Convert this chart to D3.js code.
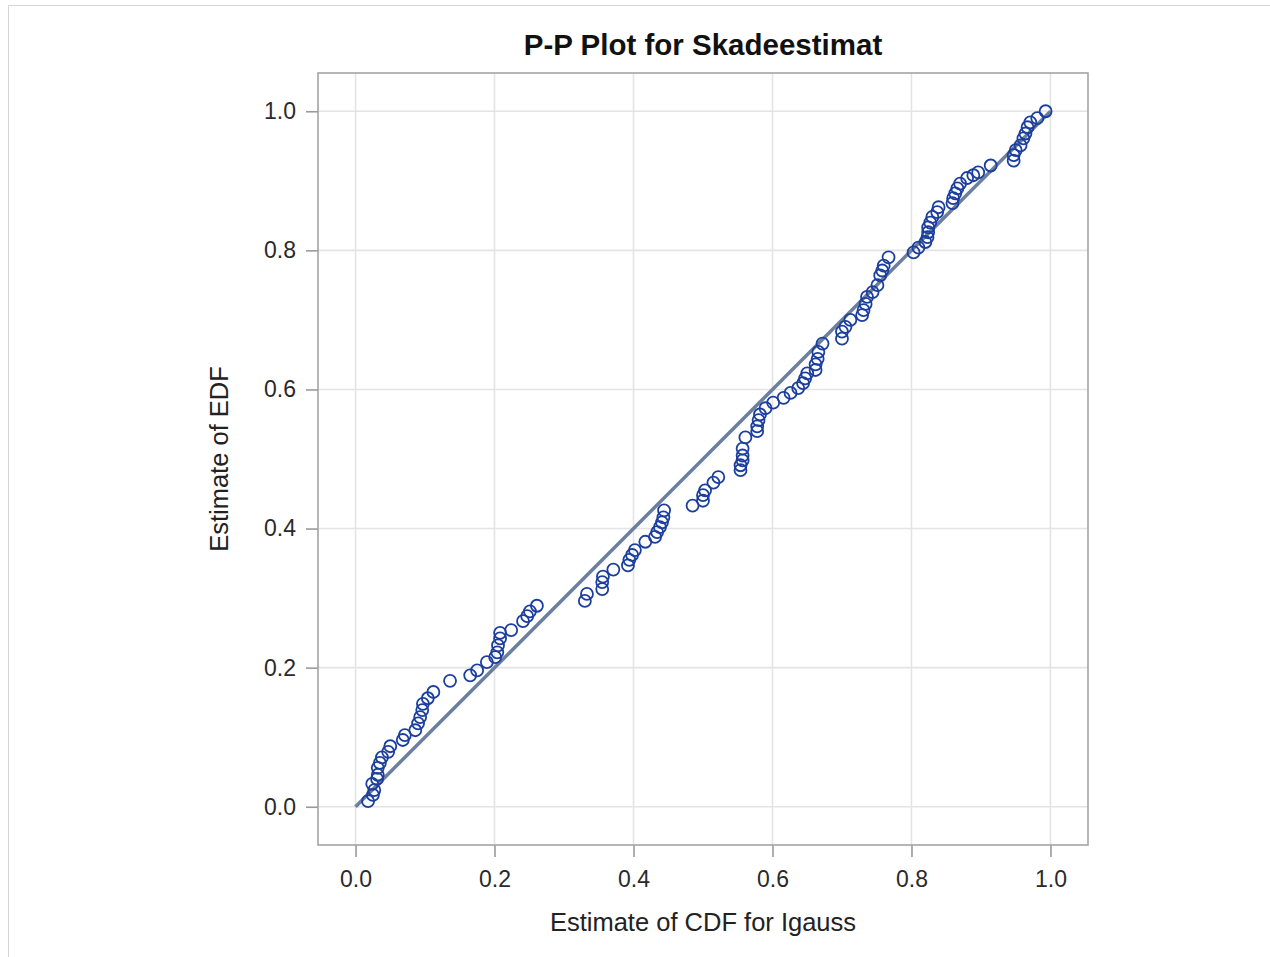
<!DOCTYPE html>
<html>
<head>
<meta charset="utf-8">
<script src="https://cdn.jsdelivr.net/npm/d3@7"></script>
<style>
  html, body { margin: 0; padding: 0; background: #fff; }
  svg { display: block; }
  text { font-family: "Liberation Sans", Arial, sans-serif; }
</style>
</head>
<body>
<svg id="chart" width="1270" height="957"></svg>
<script>
// Estimated CDF (Igauss fit) per observation
const cdfValues = [
  0.018, 0.025, 0.027, 0.024, 0.031, 0.032, 0.032, 0.035, 0.038, 0.047,
  0.050, 0.068, 0.071, 0.086, 0.090, 0.093, 0.096, 0.097, 0.104, 0.112,
  0.136, 0.165, 0.175, 0.189, 0.201, 0.204, 0.205, 0.208, 0.208, 0.224,
  0.241, 0.247, 0.251, 0.261, 0.330, 0.333, 0.355, 0.355, 0.356, 0.371,
  0.392, 0.394, 0.398, 0.402, 0.417, 0.431, 0.434, 0.438, 0.441, 0.443,
  0.444, 0.485, 0.500, 0.500, 0.503, 0.515, 0.522, 0.554, 0.554, 0.557,
  0.557, 0.557, 0.561, 0.578, 0.578, 0.580, 0.582, 0.590, 0.601, 0.616,
  0.626, 0.637, 0.644, 0.647, 0.650, 0.662, 0.662, 0.665, 0.666, 0.672,
  0.700, 0.700, 0.705, 0.712, 0.729, 0.731, 0.734, 0.736, 0.744, 0.751,
  0.755, 0.758, 0.760, 0.767, 0.803, 0.810, 0.820, 0.823, 0.824, 0.824,
  0.827, 0.830, 0.837, 0.839, 0.859, 0.860, 0.863, 0.866, 0.870, 0.880,
  0.889, 0.896, 0.914, 0.947, 0.947, 0.950, 0.957, 0.961, 0.964, 0.967,
  0.971, 0.981, 0.993
];
// Empirical distribution function per observation
const edfValues = [
  0.008, 0.017, 0.024, 0.033, 0.040, 0.046, 0.056, 0.063, 0.071, 0.079,
  0.087, 0.096, 0.103, 0.110, 0.120, 0.129, 0.139, 0.148, 0.156, 0.165,
  0.181, 0.189, 0.196, 0.208, 0.215, 0.222, 0.232, 0.242, 0.250, 0.254,
  0.267, 0.274, 0.281, 0.289, 0.296, 0.306, 0.313, 0.323, 0.331, 0.341,
  0.347, 0.355, 0.362, 0.369, 0.381, 0.388, 0.395, 0.402, 0.409, 0.416,
  0.426, 0.433, 0.440, 0.448, 0.455, 0.466, 0.474, 0.484, 0.491, 0.498,
  0.505, 0.515, 0.531, 0.540, 0.547, 0.556, 0.564, 0.573, 0.581, 0.588,
  0.595, 0.602, 0.609, 0.616, 0.623, 0.628, 0.636, 0.644, 0.654, 0.666,
  0.673, 0.683, 0.690, 0.700, 0.707, 0.714, 0.723, 0.733, 0.740, 0.750,
  0.764, 0.771, 0.778, 0.790, 0.797, 0.804, 0.812, 0.819, 0.826, 0.833,
  0.840, 0.848, 0.855, 0.862, 0.868, 0.875, 0.882, 0.889, 0.896, 0.904,
  0.908, 0.912, 0.922, 0.929, 0.937, 0.944, 0.951, 0.961, 0.968, 0.977,
  0.984, 0.990, 1.000
];
// Reference diagonal endpoints
const refLine = [[0, 0], [1, 1]];
const tickValues = [0, 0.2, 0.4, 0.6, 0.8, 1.0];

const titleText = "P-P Plot for Skadeestimat";
const xLabel = "Estimate of CDF for Igauss";
const yLabel = "Estimate of EDF";

const svg = d3.select("#chart");
const frame = { left: 318, right: 1088, top: 73, bottom: 845 };

const x = d3.scaleLinear().domain([-0.054, 1.054]).range([frame.left, frame.right]);
const y = d3.scaleLinear().domain([-0.055, 1.055]).range([frame.bottom, frame.top]);

// outer page border
svg.append("path")
  .attr("d", "M8.5,957 V5.5 H1270")
  .attr("fill", "none")
  .attr("stroke", "#d4d4d4")
  .attr("stroke-width", 1);

// grid
const grid = svg.append("g");
grid.selectAll("line.gx").data(tickValues).join("line")
  .attr("x1", d => x(d)).attr("x2", d => x(d))
  .attr("y1", frame.top).attr("y2", frame.bottom)
  .attr("stroke", "#e4e4e4").attr("stroke-width", 1.6);
grid.selectAll("line.gy").data(tickValues).join("line")
  .attr("y1", d => y(d)).attr("y2", d => y(d))
  .attr("x1", frame.left).attr("x2", frame.right)
  .attr("stroke", "#e4e4e4").attr("stroke-width", 1.6);

// axes
const fmt = d3.format(".1f");
const xAxis = svg.append("g")
  .attr("transform", `translate(0,${frame.bottom})`)
  .call(d3.axisBottom(x).tickValues(tickValues).tickFormat(fmt).tickSize(12).tickPadding(14));
const yAxis = svg.append("g")
  .attr("transform", `translate(${frame.left},0)`)
  .call(d3.axisLeft(y).tickValues(tickValues).tickFormat(fmt).tickSize(12).tickPadding(10));
[xAxis, yAxis].forEach(g => {
  g.select(".domain").remove();
  g.selectAll(".tick line").attr("stroke", "#9a9a9a").attr("stroke-width", 1.6);
  g.selectAll(".tick text")
    .attr("fill", "#2a2a2a")
    .style("font-size", "23px")
    .style("font-family", "'Liberation Sans', Arial, sans-serif");
});

// plot frame
svg.append("rect")
  .attr("x", frame.left).attr("y", frame.top)
  .attr("width", frame.right - frame.left).attr("height", frame.bottom - frame.top)
  .attr("fill", "none").attr("stroke", "#a4a4a4").attr("stroke-width", 1.6);

// reference line
svg.append("line")
  .attr("x1", x(refLine[0][0])).attr("y1", y(refLine[0][1]))
  .attr("x2", x(refLine[1][0])).attr("y2", y(refLine[1][1]))
  .attr("stroke", "#6c809d").attr("stroke-width", 3.5);

// observations
const pts = cdfValues.map((c, i) => ({ c, e: edfValues[i] }));
svg.append("g").selectAll("circle").data(pts).join("circle")
  .attr("cx", d => x(d.c))
  .attr("cy", d => y(d.e))
  .attr("r", 6)
  .attr("fill", "none")
  .attr("stroke", "#1c3f9e")
  .attr("stroke-width", 1.8);

// titles
svg.append("text")
  .attr("x", (frame.left + frame.right) / 2).attr("y", 55)
  .attr("text-anchor", "middle")
  .style("font-size", "29.5px").style("font-weight", "bold")
  .attr("fill", "#111")
  .text(titleText);

svg.append("text")
  .attr("x", (frame.left + frame.right) / 2).attr("y", 931)
  .attr("text-anchor", "middle")
  .style("font-size", "25.5px")
  .attr("fill", "#222")
  .text(xLabel);

svg.append("text")
  .attr("transform", `translate(228,${(frame.top + frame.bottom) / 2}) rotate(-90)`)
  .attr("text-anchor", "middle")
  .style("font-size", "25.5px")
  .attr("fill", "#222")
  .text(yLabel);
</script>
</body>
</html>
